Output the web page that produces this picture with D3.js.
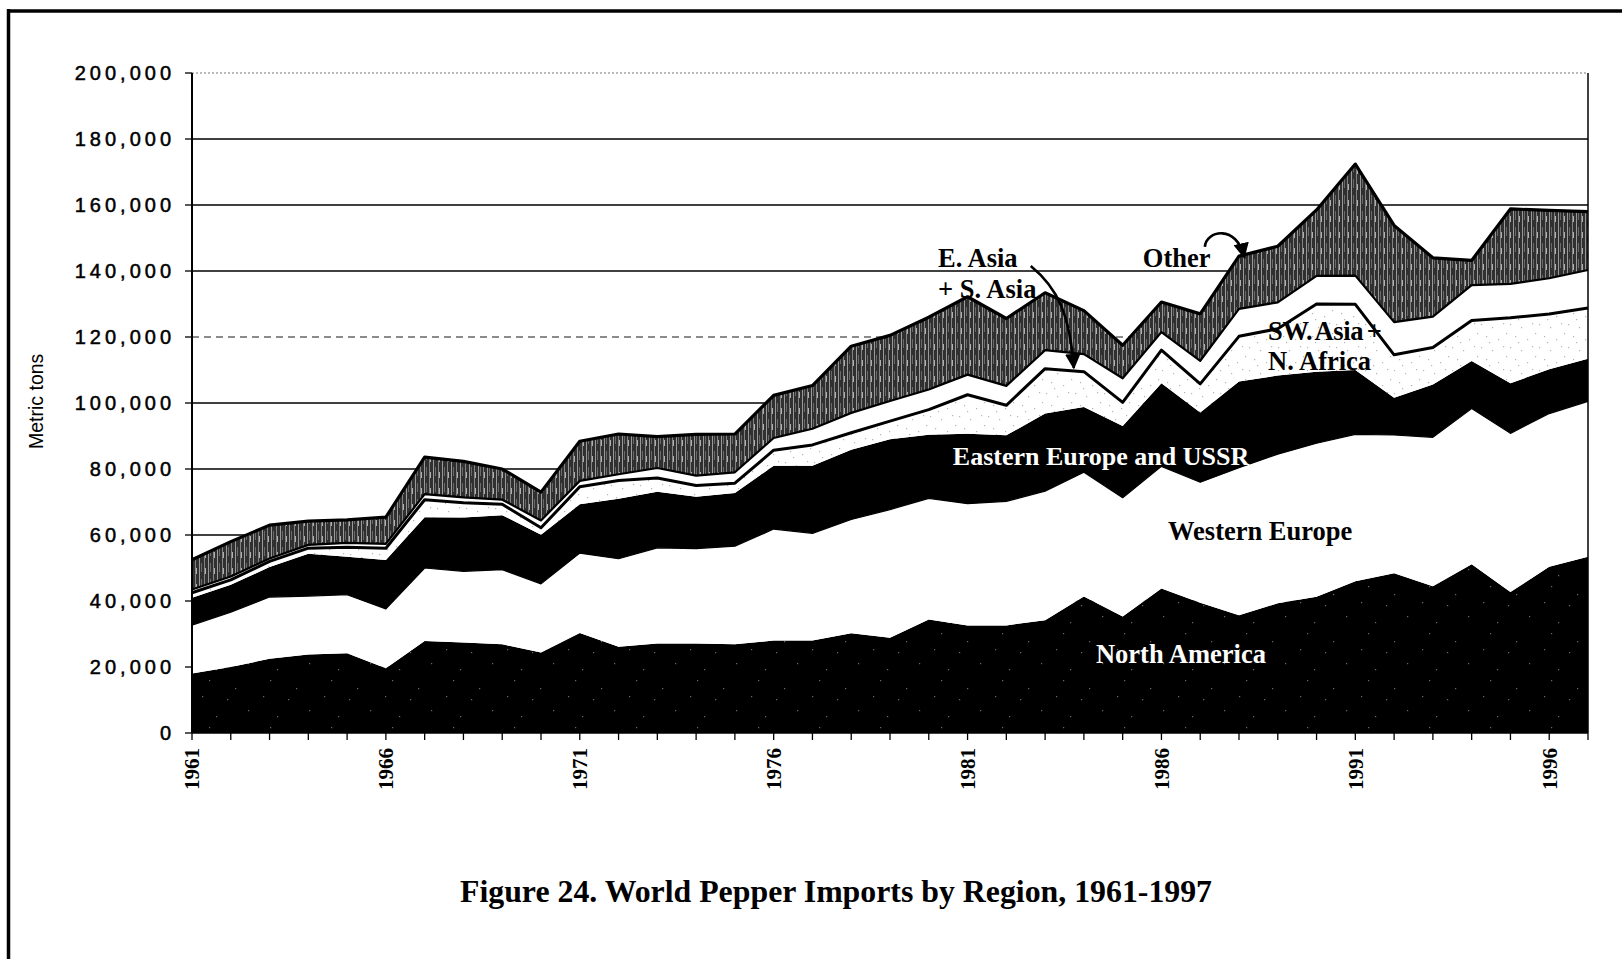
<!DOCTYPE html>
<html>
<head>
<meta charset="utf-8">
<script src="https://cdn.jsdelivr.net/npm/d3@7"></script>
<style>
body { margin: 0; background: #fff; }
svg text { font-family: "Liberation Serif", "Times New Roman", serif; }
</style>
</head>
<body>
<svg id="chart"></svg>
<script>
// values in metric tons
var years = [1961, 1962, 1963, 1964, 1965, 1966, 1967, 1968, 1969, 1970,
	1971, 1972, 1973, 1974, 1975, 1976, 1977, 1978, 1979, 1980,
	1981, 1982, 1983, 1984, 1985, 1986, 1987, 1988, 1989, 1990,
	1991, 1992, 1993, 1994, 1995, 1996, 1997];

var northAmerica = [18000, 20000, 22500, 23800, 24200, 19600, 27900, 27400, 26900, 24400,
	30300, 26100, 27100, 27100, 26900, 28000, 28000, 30200, 28900, 34400,
	32600, 32600, 34200, 41400, 35300, 43800, 39500, 35700, 39300, 41300,
	46000, 48400, 44500, 51100, 42700, 50400, 53400];
var westernEurope = [14700, 16600, 18700, 17700, 17700, 18000, 22100, 21600, 22600, 20800,
	24200, 26700, 29000, 28800, 29700, 33800, 32500, 34500, 38800, 36700,
	36900, 37600, 39100, 37600, 36000, 37000, 36500, 44700, 45200, 46500,
	44500, 41900, 45100, 47200, 48100, 46400, 47100];
var easternEurope = [8300, 8300, 9100, 12800, 11500, 14800, 15400, 16300, 16500, 14900,
	14800, 18200, 17000, 15700, 16100, 19200, 20500, 21100, 21300, 19300,
	21200, 20000, 23500, 19800, 21700, 25200, 21100, 26100, 23800, 21700,
	19500, 11300, 16000, 14400, 15200, 13400, 12900];
var swAsiaNAfrica = [1500, 1500, 1700, 1700, 2900, 3600, 5300, 4500, 3300, 2100,
	5300, 5500, 4200, 3400, 3000, 4700, 6300, 5200, 5500, 7600,
	11800, 9100, 13600, 10700, 7200, 10000, 8700, 13700, 14200, 20500,
	19900, 13000, 11200, 12300, 19800, 16800, 15400];
var eastSouthAsia = [1000, 1000, 900, 1000, 1300, 1300, 1700, 1600, 1400, 2200,
	1800, 1900, 3000, 3000, 3300, 3700, 4900, 6000, 6100, 6100,
	6100, 5900, 5600, 5300, 7300, 5500, 7000, 8300, 8000, 8500,
	8700, 9900, 9400, 10700, 10300, 10800, 11500];
var other = [9000, 10600, 10100, 7200, 7000, 8100, 11200, 10900, 9300, 8600,
	12000, 12200, 9500, 12500, 11600, 12900, 13100, 20200, 19900, 21900,
	23600, 20400, 17400, 13200, 10000, 9100, 14200, 16000, 17000, 20000,
	33800, 29300, 17800, 7500, 22700, 20600, 17700];

var keys = ["na", "we", "ee", "sw", "ea", "ot"];
var yTicks = [0, 20000, 40000, 60000, 80000, 100000, 120000, 140000, 160000, 180000, 200000];
var xTickLabels = [1961, 1966, 1971, 1976, 1981, 1986, 1991, 1996];

var width = 1622, height = 959;
var svg = d3.select("#chart").attr("width", width).attr("height", height);

var x = d3.scaleLinear().domain([1961, 1997]).range([192, 1588]);
var y = d3.scaleLinear().domain([0, 200000]).range([733, 73]);

// fill patterns that imitate the scanned print
var defs = svg.append("defs");

function speckle(id, bg, dot, w, h, dots) {
	var p = defs.append("pattern").attr("id", id)
		.attr("patternUnits", "userSpaceOnUse").attr("width", w).attr("height", h);
	p.append("rect").attr("width", w).attr("height", h).attr("fill", bg);
	dots.forEach(function (d) {
		p.append("rect").attr("x", d[0]).attr("y", d[1]).attr("width", 1.2).attr("height", 1.2).attr("fill", dot);
	});
}
speckle("naFill", "#000", "#6a6a6a", 61, 47, [[4, 5], [33, 11], [52, 30], [19, 38], [44, 41], [26, 22]]);
speckle("swFill", "#fff", "#b5b5b5", 29, 23, [[2, 2], [13, 5], [24, 1], [7, 14], [19, 17], [27, 11], [10, 20]]);

var hatch = defs.append("pattern").attr("id", "otFill")
	.attr("patternUnits", "userSpaceOnUse").attr("width", 9).attr("height", 16);
hatch.append("rect").attr("width", 9).attr("height", 16).attr("fill", "#303030");
hatch.append("rect").attr("x", 1).attr("width", 1).attr("height", 16).attr("fill", "#9a9a9a");
hatch.append("rect").attr("x", 3).attr("y", 3).attr("width", 1).attr("height", 9).attr("fill", "#6a6a6a");
hatch.append("rect").attr("x", 6).attr("width", 1).attr("height", 16).attr("fill", "#828282");
hatch.append("rect").attr("x", 7).attr("y", 8).attr("width", 1).attr("height", 6).attr("fill", "#b0b0b0");

var fills = { na: "url(#naFill)", we: "#fff", ee: "#000", sw: "url(#swFill)", ea: "#fff", ot: "url(#otFill)" };

// frame of the page
svg.append("line").attr("x1", 7).attr("x2", width).attr("y1", 11).attr("y2", 11)
	.attr("stroke", "#000").attr("stroke-width", 3.5);
svg.append("line").attr("x1", 8.5).attr("x2", 8.5).attr("y1", 9).attr("y2", height)
	.attr("stroke", "#000").attr("stroke-width", 3.5);

// gridlines
svg.selectAll("line.grid")
	.data(yTicks.slice(1))
	.enter()
	.append("line")
	.attr("class", "grid")
	.attr("x1", x(1961)).attr("x2", x(1997))
	.attr("y1", d => y(d)).attr("y2", d => y(d))
	.attr("stroke", d => d == 200000 ? "#777" : d == 120000 ? "#666" : "#000")
	.attr("stroke-width", d => d == 200000 ? 1 : 1.4)
	.attr("stroke-dasharray", d => d == 200000 ? "2,2" : d == 120000 ? "7,5" : null);

// stacked areas
var rows = years.map(function (yr, i) {
	return { year: yr, na: northAmerica[i], we: westernEurope[i], ee: easternEurope[i],
		sw: swAsiaNAfrica[i], ea: eastSouthAsia[i], ot: other[i] };
});
var stacked = d3.stack().keys(keys)(rows);

var area = d3.area()
	.x(d => x(d.data.year))
	.y0(d => y(d[0]))
	.y1(d => y(d[1]));

svg.selectAll("path.layer")
	.data(stacked)
	.enter()
	.append("path")
	.attr("class", "layer")
	.attr("d", area)
	.attr("fill", d => fills[d.key]);

var topLine = d3.line()
	.x(d => x(d.data.year))
	.y(d => y(d[1]));
var borders = { we: 1.2, sw: 3, ea: 2.2, ot: 3.2 };

svg.selectAll("path.edge")
	.data(stacked.filter(s => borders[s.key]))
	.enter()
	.append("path")
	.attr("class", "edge")
	.attr("d", topLine)
	.attr("fill", "none")
	.attr("stroke", "#000")
	.attr("stroke-width", d => borders[d.key])
	.attr("stroke-linejoin", "round");

// axes
svg.append("line").attr("x1", x(1961)).attr("x2", x(1961)).attr("y1", y(200000)).attr("y2", y(0))
	.attr("stroke", "#000").attr("stroke-width", 2);
svg.append("line").attr("x1", x(1997)).attr("x2", x(1997)).attr("y1", y(200000)).attr("y2", y(0))
	.attr("stroke", "#000").attr("stroke-width", 1.5);
svg.append("line").attr("x1", x(1961)).attr("x2", x(1997)).attr("y1", y(0)).attr("y2", y(0))
	.attr("stroke", "#000").attr("stroke-width", 1.5);

svg.selectAll("line.ytick")
	.data(yTicks)
	.enter()
	.append("line")
	.attr("x1", x(1961) - 7).attr("x2", x(1961))
	.attr("y1", d => y(d)).attr("y2", d => y(d))
	.attr("stroke", "#000").attr("stroke-width", 1.3);

svg.selectAll("text.ylab")
	.data(yTicks)
	.enter()
	.append("text")
	.attr("class", "ylab")
	.attr("x", 175)
	.attr("y", d => y(d))
	.attr("dy", "0.36em")
	.attr("text-anchor", "end")
	.style("font-family", "'Liberation Sans', Arial, sans-serif")
	.attr("font-size", "20px")
	.attr("letter-spacing", "4px")
	.attr("stroke", "#000")
	.attr("stroke-width", 0.5)
	.text(d => d3.format(",")(d));

svg.selectAll("line.xtick")
	.data(years)
	.enter()
	.append("line")
	.attr("x1", d => x(d)).attr("x2", d => x(d))
	.attr("y1", y(0)).attr("y2", y(0) + 7)
	.attr("stroke", "#000").attr("stroke-width", 1.3);

svg.selectAll("text.xlab")
	.data(xTickLabels)
	.enter()
	.append("text")
	.attr("class", "xlab")
	.attr("transform", d => "translate(" + x(d) + "," + (y(0) + 15) + ") rotate(-90)")
	.attr("dy", "0.35em")
	.attr("text-anchor", "end")
	.attr("font-size", "21px")
	.attr("font-weight", "bold")
	.text(d => d);

svg.append("text")
	.attr("transform", "translate(36," + y(100500) + ") rotate(-90)")
	.attr("dy", "0.35em")
	.attr("text-anchor", "middle")
	.style("font-family", "'Liberation Sans', Arial, sans-serif")
	.attr("font-size", "19.5px")
	.text("Metric tons");

// region labels, placed in data units
var labels = [
	{ text: "E. Asia", yr: 1980.24, v: 141200, color: "#000", size: 26.5 },
	{ text: "+ S. Asia", yr: 1980.24, v: 131800, color: "#000", size: 26.5 },
	{ text: "Other", yr: 1985.52, v: 141200, color: "#000", size: 26.5 },
	{ text: "SW. Asia +", yr: 1988.75, v: 119100, color: "#000", size: 26.5, tight: true },
	{ text: "N. Africa", yr: 1988.75, v: 110000, color: "#000", size: 26.5 },
	{ text: "Eastern Europe and USSR", yr: 1980.62, v: 81200, color: "#fff", size: 26 },
	{ text: "Western Europe", yr: 1986.17, v: 58500, color: "#000", size: 26.5 },
	{ text: "North America", yr: 1984.31, v: 21200, color: "#fff", size: 26.5 }
];

svg.selectAll("text.region")
	.data(labels)
	.enter()
	.append("text")
	.attr("class", "region")
	.attr("x", d => x(d.yr))
	.attr("y", d => y(d.v))
	.attr("font-size", d => d.size + "px")
	.attr("font-weight", "bold")
	.attr("fill", d => d.color)
	.attr("letter-spacing", d => d.tight ? "-0.4px" : null)
	.attr("word-spacing", d => d.tight ? "-2.5px" : null)
	.text(d => d.text);

// arrows
defs.append("marker").attr("id", "head")
	.attr("viewBox", "0 0 10 10").attr("refX", 9).attr("refY", 5)
	.attr("markerWidth", 6).attr("markerHeight", 6).attr("orient", "auto")
	.attr("markerUnits", "strokeWidth")
	.append("path").attr("d", "M0,0L10,5L0,10z").attr("fill", "#000");

var arrows = [
	[[1982.63, 141500], [1983.33, 134800], [1983.64, 126700], [1983.74, 110600]],
	[[1987.12, 147300], [1987.15, 152400], [1987.95, 154200], [1988.13, 144200]]
];
arrows.forEach(function (a) {
	var p = d3.path();
	p.moveTo(x(a[0][0]), y(a[0][1]));
	p.bezierCurveTo(x(a[1][0]), y(a[1][1]), x(a[2][0]), y(a[2][1]), x(a[3][0]), y(a[3][1]));
	svg.append("path").attr("d", p.toString())
		.attr("fill", "none").attr("stroke", "#000").attr("stroke-width", 2.6)
		.attr("marker-end", "url(#head)");
});

svg.append("text")
	.attr("x", 836)
	.attr("y", 902)
	.attr("text-anchor", "middle")
	.attr("font-size", "32px")
	.attr("font-weight", "bold")
	.attr("textLength", 752)
	.attr("lengthAdjust", "spacingAndGlyphs")
	.text("Figure 24. World Pepper Imports by Region, 1961-1997");
</script>
</body>
</html>
